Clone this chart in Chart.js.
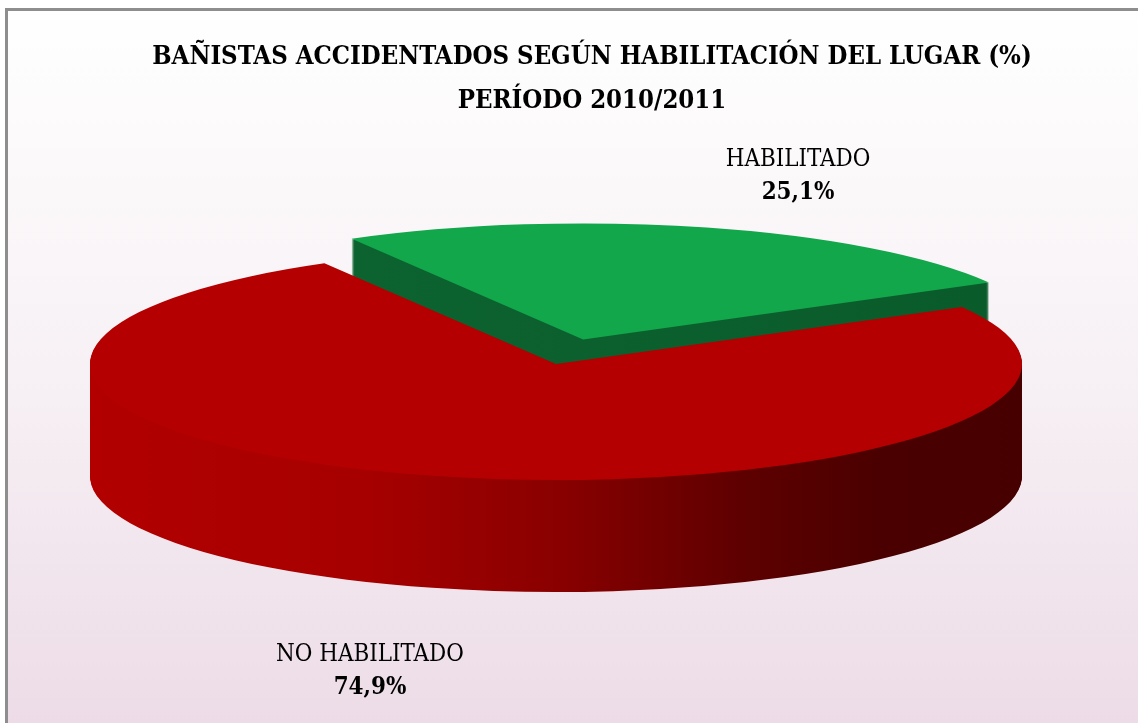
<!DOCTYPE html>
<html>
<head>
<meta charset="utf-8">
<script src="https://cdn.jsdelivr.net/npm/chart.js@4.4.1/dist/chart.umd.min.js"></script>
<style>
  html, body { margin: 0; padding: 0; overflow: hidden; background: #fff; }
  #chart { display: block; }
</style>
</head>
<body>
<canvas id="chart" width="1138" height="723"></canvas>
<script>
const categories = ['HABILITADO', 'NO HABILITADO'];
const percentages = [25.1, 74.9];
const titleLines = ['BAÑISTAS ACCIDENTADOS SEGÚN HABILITACIÓN DEL LUGAR (%)', 'PERÍODO 2010/2011'];

const topColors = ['#12a74b', '#b40000'];
const sideStops = [
  [[0, '#0d6632'], [1, '#0a5a2a']],
  [[0, '#b20000'], [0.3, '#a60000'], [0.5, '#8a0000'], [0.7, '#5e0000'], [0.85, '#4a0000'], [1, '#470000']]
];

const serif = '"DejaVu Serif Condensed", "Liberation Serif", serif';

// the flat pie from chart.js gets squashed onto this ellipse, depth is the wall height
const pie = { cx: 556, cy: 364, rx: 466, ry: 116, depth: 112 };
const labelPos = [{ x: 798, y: 160 }, { x: 370, y: 655 }];

// pick font sizes so the text widths match the original
function fitSize(text, weight, width) {
  const c = document.createElement('canvas').getContext('2d');
  c.font = weight + ' 100px ' + serif;
  return 100 * width / c.measureText(text).width;
}
const titleSize = fitSize(titleLines[0], 'bold', 880);
const labelSize = fitSize(categories[1], 'normal', 188);

function fmt(v) {
  return v.toFixed(1).replace('.', ',') + '%';
}

function project(ctx, arc, dy) {
  const sx = pie.rx / arc.outerRadius;
  const sy = pie.ry / arc.outerRadius;
  ctx.translate(pie.cx, pie.cy + dy);
  ctx.scale(sx, sy);
  ctx.translate(-arc.x, -arc.y);
}

const frame = {
  id: 'frame',
  beforeDraw(chart) {
    const ctx = chart.ctx;
    const w = chart.width, h = chart.height;
    ctx.save();
    const bg = ctx.createLinearGradient(0, 8, 0, h);
    bg.addColorStop(0, '#ffffff');
    bg.addColorStop(0.5, '#f7f1f5');
    bg.addColorStop(1, '#eddce7');
    ctx.fillStyle = bg;
    ctx.fillRect(5, 8, w - 5, h - 8);
    ctx.fillStyle = '#8e8e8e';
    ctx.fillRect(5, 8, w - 5, 3);
    ctx.fillRect(5, 8, 3, h - 8);
    ctx.restore();
  }
};

const pie3d = {
  id: 'pie3d',
  beforeDatasetsDraw(chart) {
    const ctx = chart.ctx;
    const arcs = chart.getDatasetMeta(0).data;
    const first = arcs[0];
    const r = first.outerRadius;

    for (let k = pie.depth; k >= 1; k--) {
      ctx.save();
      project(ctx, first, k);
      arcs.forEach((arc, i) => {
        const g = ctx.createLinearGradient(first.x - r, 0, first.x + r, 0);
        sideStops[i].forEach(s => g.addColorStop(s[0], s[1]));
        const side = Object.create(arc);
        Object.defineProperty(side, 'options', {
          value: Object.assign({}, arc.options, { backgroundColor: g }),
          writable: true
        });
        side.draw(ctx);
      });
      ctx.restore();
    }

    ctx.save();
    project(ctx, first, 0);
  },
  afterDatasetsDraw(chart) {
    const ctx = chart.ctx;
    ctx.restore();

    ctx.save();
    ctx.textAlign = 'center';
    ctx.textBaseline = 'middle';
    ctx.fillStyle = '#000';
    categories.forEach((name, i) => {
      ctx.font = labelSize + 'px ' + serif;
      ctx.fillText(name, labelPos[i].x, labelPos[i].y);
      ctx.font = 'bold ' + labelSize + 'px ' + serif;
      ctx.fillText(fmt(percentages[i]), labelPos[i].x, labelPos[i].y + 33);
    });
    ctx.restore();
  }
};

new Chart(document.getElementById('chart'), {
  type: 'pie',
  data: {
    labels: categories,
    datasets: [{
      data: percentages,
      backgroundColor: topColors,
      borderWidth: 0,
      radius: 200,
      offset: [176, 0]
    }]
  },
  options: {
    responsive: false,
    animation: false,
    events: [],
    rotation: -29.8,
    layout: { padding: { left: 46 } },
    plugins: {
      legend: { display: false },
      tooltip: { enabled: false },
      title: {
        display: true,
        text: titleLines,
        color: '#000',
        font: { family: serif, size: titleSize, weight: 'bold', lineHeight: 44 / titleSize },
        padding: { top: 35, bottom: 10 }
      }
    }
  },
  plugins: [frame, pie3d]
});
</script>
</body>
</html>
